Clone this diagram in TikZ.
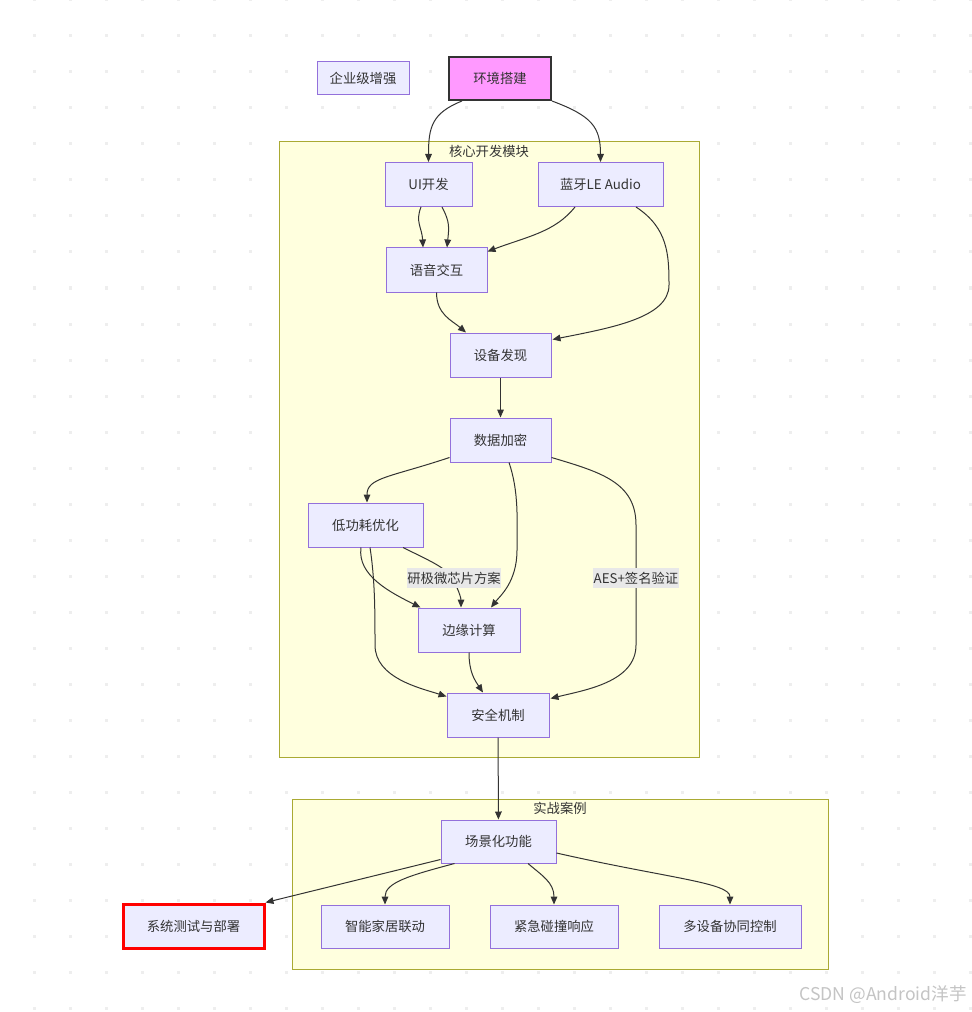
\documentclass[tikz,border=0pt]{standalone}
\usepackage{fontspec}
\setmainfont{Noto Sans CJK SC}
\usetikzlibrary{arrows.meta,calc}
\definecolor{nodefill}{HTML}{ECECFF}
\definecolor{nodeline}{HTML}{9370DB}
\definecolor{clfill}{HTML}{FFFFDE}
\definecolor{clline}{HTML}{AAAA33}
\definecolor{txt}{HTML}{333333}
\definecolor{envfill}{HTML}{FF99FF}
\definecolor{dotc}{HTML}{EEEEEE}
\definecolor{lblbg}{HTML}{E8E8E8}
\definecolor{wm}{HTML}{C4C4C4}
\begin{document}
\begin{tikzpicture}[x=0.75pt,y=-0.75pt,font=\fontsize{10}{12}\selectfont,text=txt,
  box/.style={draw=nodeline,fill=nodefill,line width=0.75pt,minimum height=33pt,inner sep=0pt,text=txt},
  edge/.style={draw=txt,line width=0.75pt,-{Triangle[length=6pt,width=5pt]}},
  lbl/.style={fill=lblbg,inner xsep=0.5pt,inner ysep=2.5pt,text=txt},
  cluster/.style={draw=clline,fill=clfill,line width=0.75pt},
  ctitle/.style={text=txt,inner sep=0pt}]
\useasboundingbox (0,0) rectangle (971,1012);
\fill[white] (0,0) rectangle (971,1012);
% dotted background
\foreach \i in {0,...,26}{\foreach \j in {0,...,28}{
  \fill[dotc] ({34+36*\i-1.5},{36*\j-1.5}) rectangle ++(3,3);}}
% clusters
\draw[cluster] (279,142) rectangle (699,757);
\node[ctitle] (t1) at (489,151) {核心开发模块};
\draw[cluster] (292,799) rectangle (828,969);
\node[ctitle] (t2) at (560,808) {实战案例};
% nodes
\node[box,minimum width=69pt,minimum height=24.75pt] (ent) at (363,78.5) {企业级增强};
\node[box,draw=txt,fill=envfill,line width=1.5pt,minimum width=76.5pt,minimum height=32.25pt] (env) at (500,78.5) {环境搭建};
\node[box,minimum width=65.25pt] (ui) at (428.5,184.5) {UI开发};
\node[box,minimum width=93.75pt] (bt) at (600.5,184.5) {蓝牙LE Audio};
\node[box,minimum width=75.75pt] (voice) at (436.5,270) {语音交互};
\node[box,minimum width=75.75pt] (dev) at (500.5,355) {设备发现};
\node[box,minimum width=75.75pt] (enc) at (500.5,440) {数据加密};
\node[box,minimum width=86.25pt] (low) at (365.5,525) {低功耗优化};
\node[box,minimum width=76.5pt] (edg) at (469,630) {边缘计算};
\node[box,minimum width=76.5pt] (safe) at (498,715) {安全机制};
\node[box,minimum width=86.25pt,minimum height=32.25pt] (scene) at (498.5,841.5) {场景化功能};
\node[box,draw=red,line width=2.25pt,minimum width=105.75pt] (sys) at (193.5,926) {系统测试与部署};
\node[box,minimum width=96pt,minimum height=32.25pt] (home) at (385,926.5) {智能家居联动};
\node[box,minimum width=96pt,minimum height=32.25pt] (emer) at (554,926.5) {紧急碰撞响应};
\node[box,minimum width=106.5pt,minimum height=32.25pt] (multi) at (730,926.5) {多设备协同控制};
% edges
\draw[edge] ($(env.south)+(-38,0)$) .. controls +(-30,12) and +(0,-35) .. (ui.north);
\draw[edge] (env.south east) .. controls +(40,15) and +(0,-35) .. (bt.north);
\draw[edge] ($(ui.south)+(-7.5,0)$) .. controls +(-6,15) and +(-1,-20) .. ($(voice.north)+(-13.5,0)$);
\draw[edge] ($(ui.south)+(13.5,0)$) .. controls +(8,15) and +(2,-20) .. ($(voice.north)+(10.5,0)$);
\draw[edge] ($(bt.south)+(-25.5,0)$) .. controls +(-20,25) and +(40,-15) .. ($(voice.north east)+(0,4)$);
\draw[edge] ($(bt.south)+(35.5,0)$) .. controls (668,228) and (669,255) .. (669,285)
  .. controls (669,318) and (610,328) .. ($(dev.north east)+(1,7)$);
\draw[edge] (voice.south) .. controls +(0,22) and +(-14,-12) .. ($(dev.north)+(-34.5,0)$);
\draw[edge] (dev) -- (enc);
\draw[edge] ($(enc.south west)+(0,-5)$) .. controls +(-60,20) and +(0,-25) .. ($(low.north)+(1.5,0)$);
\draw[edge] ($(enc.south)+(8.5,0)$) .. controls (519,492) and (517,520) .. (517,550)
  .. controls (517,582) and (500,596) .. ($(edg.north)+(22,0)$);
\draw[edge] ($(enc.south east)+(0,-5)$) .. controls (600,472) and (636,482) .. (636,525)
  -- (636,645) .. controls (636,682) and (585,690) .. ($(safe.north east)+(1,6)$);
\node[lbl] (l2) at (636,578) {AES+签名验证};
\draw[edge] ($(low.south)+(-4.5,0)$) .. controls +(-4,28) and +(-30,-15) .. ($(edg.north west)+(3,0)$);
\draw[edge] ($(low.south)+(37.5,0)$) .. controls (430,561) and (445,567) .. (452,578)
  .. controls (458,588) and (461,598) .. ($(edg.north)+(-8,0)$);
\node[lbl] (l1) at (454,578) {研极微芯片方案};
\draw[edge] ($(low.south)+(4.5,0)$) .. controls (375,580) and (375,612) .. (375,645)
  .. controls (375,678) and (420,688) .. ($(safe.north west)+(0,4)$);
\draw[edge] (edg.south) .. controls +(0,20) and +(-8,-12) .. ($(safe.north)+(-15,0)$);
\draw[edge] (safe) -- (scene);
\draw[edge] ($(scene.south west)+(0,-4)$) -- (sys.north east);
\draw[edge] ($(scene.south west)+(14,0)$) .. controls +(-45,12) and +(0,-22) .. (home.north);
\draw[edge] ($(scene.south)+(29.5,0)$) .. controls +(14,12) and +(0,-22) .. (emer.north);
\draw[edge] ($(scene.east)+(0,11.5)$) .. controls +(110,25) and +(0,-22) .. (multi.north);
% watermark
\node[text=wm,font=\fontsize{13.2}{15}\selectfont,inner sep=0pt,anchor=east] (wmk) at (967,995) {CSDN @Android洋芋};
\end{tikzpicture}
\end{document}
